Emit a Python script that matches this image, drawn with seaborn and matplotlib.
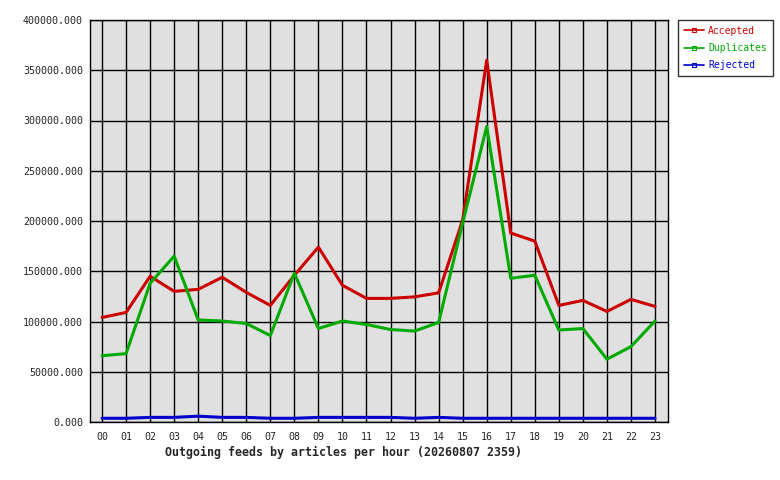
import pandas as pd
import matplotlib
matplotlib.use("Agg")
import matplotlib.pyplot as plt
import seaborn as sns
from matplotlib.lines import Line2D

# hourly values
hours = ['00', '01', '02', '03', '04', '05', '06', '07', '08', '09', '10', '11',
         '12', '13', '14', '15', '16', '17', '18', '19', '20', '21', '22', '23']
accepted = [104000, 109000, 145000, 130000, 132000, 144000, 129000, 116000,
            146000, 174000, 136000, 123000, 123000, 124500, 128500, 201000,
            360000, 188000, 180000, 116000, 121000, 110000, 122000, 115000]
duplicates = [66000, 68000, 138000, 165000, 101500, 100500, 98000, 86000,
              148000, 93000, 100500, 97000, 92000, 90500, 99000, 198000,
              294000, 143000, 146000, 91500, 93000, 62500, 75000, 100500]
rejected = [3700, 3700, 4600, 4600, 5800, 4600, 4600, 3700,
            3700, 4600, 4600, 4600, 4600, 3700, 4600, 3700,
            3700, 3700, 3700, 3700, 3700, 3700, 3700, 3700]
series_names = ['Accepted', 'Duplicates', 'Rejected']
colors = ['#cc0000', '#00aa00', '#0000cc']
y_ticks = [0, 50000, 100000, 150000, 200000, 250000, 300000, 350000, 400000]
title = 'Outgoing feeds by articles per hour (20260807 2359)'

df = pd.DataFrame({'hour': list(range(len(hours))) * 3,
                   'value': accepted + duplicates + rejected,
                   'series': [s for s in series_names for _ in hours]})

sns.set_style('white')
plt.rcParams['font.family'] = ['DejaVu Sans Mono']

fig = plt.figure(figsize=(7.8, 4.8), dpi=100)
ax = fig.add_axes([90 / 780, 1 - 422 / 480, 578 / 780, 402 / 480])
ax.set_facecolor('#e0e0e0')

sns.lineplot(data=df, x='hour', y='value', hue='series', palette=colors,
             linewidth=2.2, ax=ax, legend=False, zorder=3)

ax.set_xlim(-0.5, 23.54)
ax.set_ylim(0, 400000)
ax.set_xticks(range(len(hours)))
ax.set_xticklabels(hours)
ax.set_yticks(y_ticks)
ax.set_yticklabels(['%d.000' % v for v in y_ticks])
ax.grid(True, color='black', linewidth=1.0)
ax.set_axisbelow(True)
for sp in ax.spines.values():
    sp.set_color('black')
    sp.set_linewidth(1.0)
ax.tick_params(axis='y', length=4, width=1, color='black', labelsize=7.2, pad=1)
ax.tick_params(axis='x', length=0, labelsize=7.2, pad=7)
ax.set_xlabel('')
ax.set_ylabel('')

# title sits under the axis, a bit left of centre as in the reference
fig.text(165 / 780, 1 - 452 / 480, title, fontsize=8.4, fontweight='bold',
         ha='left', va='center')

handles = [Line2D([0], [0], color=c, linewidth=1.2, marker='s', markersize=2.5,
                  markerfacecolor='none', markeredgewidth=0.8) for c in colors]
leg = fig.legend(handles, series_names, loc='upper left',
                 bbox_to_anchor=(678 / 780, 1 - 20 / 480), fontsize=7.0,
                 frameon=True, fancybox=False, edgecolor='black',
                 handlelength=2.1, handletextpad=0.4, borderpad=0.6,
                 borderaxespad=0, labelspacing=0.75)
leg.get_frame().set_linewidth(1.0)
for t, c in zip(leg.get_texts(), colors):
    t.set_color(c)

fig.savefig('out.png', dpi=100)
